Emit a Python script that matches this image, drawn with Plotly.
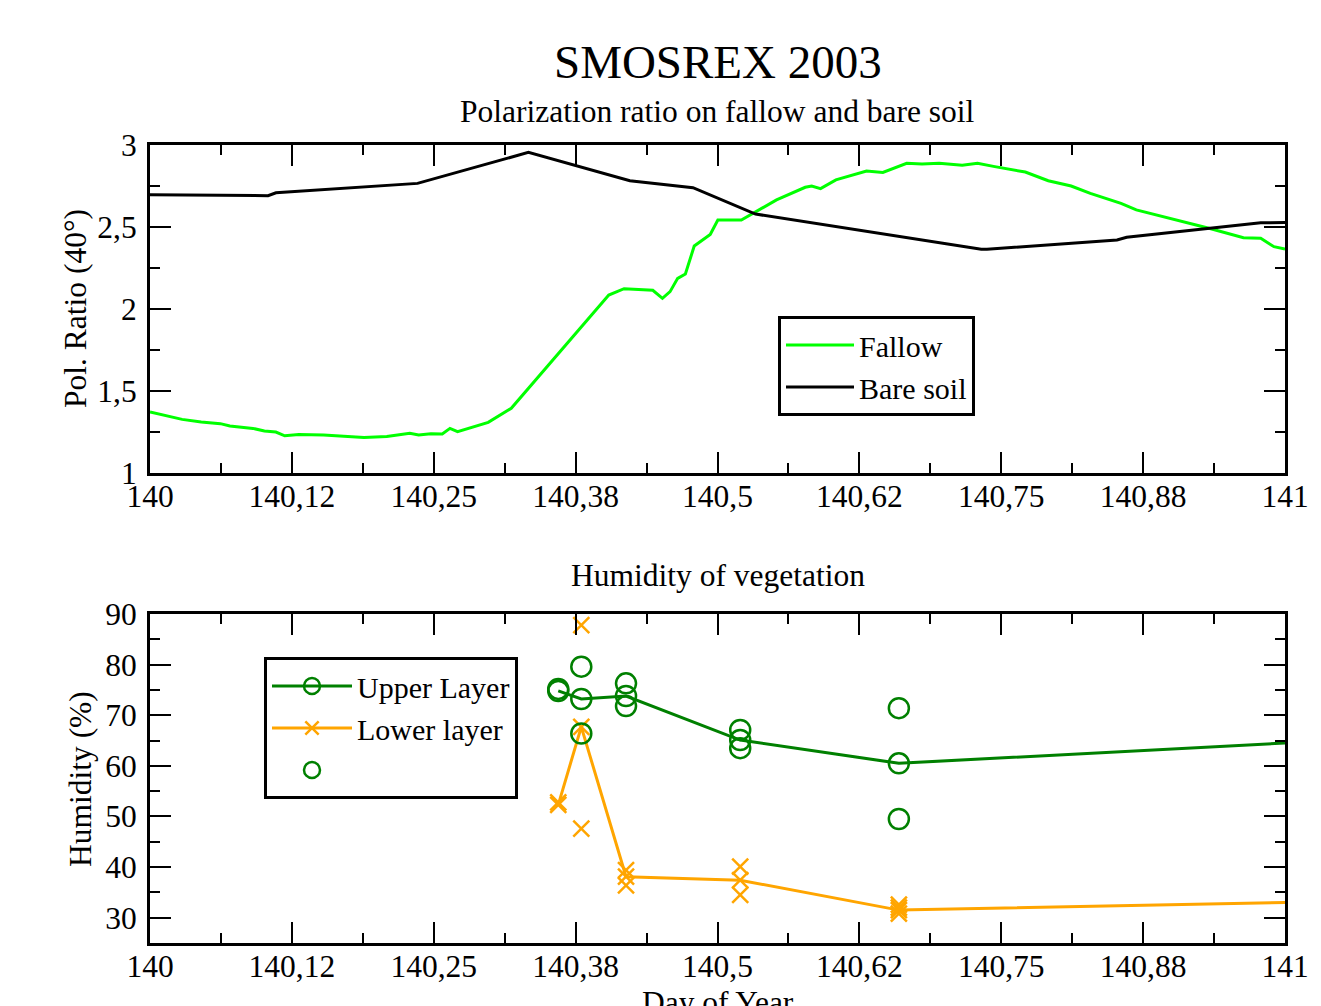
import plotly.graph_objects as go

# ---- Polarization ratio (day-of-year offsets from day 140) ----
fallow_t = [0.0, 0.0115, 0.0283, 0.0451, 0.062, 0.0704, 0.0907, 0.1008, 0.1109, 0.1187,
            0.1311, 0.153, 0.175, 0.1885, 0.2086, 0.2289, 0.2367, 0.2475, 0.2575, 0.2643,
            0.271, 0.298, 0.3183, 0.4042, 0.4177, 0.443, 0.4515, 0.4582, 0.4649, 0.4717,
            0.4795, 0.4936, 0.5003, 0.521, 0.552, 0.5773, 0.583, 0.5908, 0.6043, 0.6313,
            0.6457, 0.6667, 0.6802, 0.6953, 0.7156, 0.7291, 0.7443, 0.7577, 0.7712, 0.7914,
            0.8116, 0.8285, 0.8487, 0.8555, 0.869, 0.9027, 0.933, 0.9634, 0.9786, 0.9903, 1.0]
fallow_pr = [1.372, 1.354, 1.327, 1.311, 1.301, 1.287, 1.272, 1.256, 1.25, 1.227,
             1.234, 1.232, 1.220, 1.216, 1.222, 1.242, 1.232, 1.240, 1.238, 1.272,
             1.252, 1.309, 1.395, 2.085, 2.124, 2.114, 2.065, 2.106, 2.187, 2.213,
             2.384, 2.455, 2.543, 2.543, 2.665, 2.742, 2.75, 2.734, 2.787, 2.841,
             2.833, 2.888, 2.884, 2.888, 2.876, 2.888, 2.868, 2.852, 2.835, 2.782,
             2.75, 2.705, 2.659, 2.644, 2.604, 2.547, 2.492, 2.435, 2.431, 2.38, 2.365]

bare_t = [0.0, 0.104, 0.111, 0.2306, 0.2357, 0.3334, 0.4228, 0.4784, 0.5335,
          0.7324, 0.7374, 0.852, 0.8605, 0.9786, 1.0]
bare_pr = [2.697, 2.691, 2.709, 2.76, 2.766, 2.955, 2.782, 2.74, 2.579,
           2.364, 2.364, 2.421, 2.437, 2.526, 2.527]

# ---- Vegetation humidity ----
layer_t = [0.3597, 0.38, 0.4194, 0.52, 0.6598, 1.0]
upper_hum = [74.8, 73.2, 73.8, 65.1, 60.5, 64.5]
lower_hum = [52.3, 67.7, 38.1, 37.4, 31.5, 33.0]
layer_marker_on = [1, 1, 1, 1, 1, 0]

upper_pts_t = [0.3597, 0.38, 0.38, 0.4194, 0.4194, 0.52, 0.52, 0.6598, 0.6598]
upper_pts_hum = [75.2, 79.6, 66.4, 76.3, 71.8, 67.1, 63.5, 71.4, 49.5]

lower_pts_t = [0.3597, 0.38, 0.38, 0.4194, 0.4194, 0.52, 0.52, 0.6598, 0.6598, 0.6598]
lower_pts_hum = [52.8, 87.8, 47.6, 39.4, 36.4, 40.1, 34.5, 32.6, 30.8, 32.0]

# ---- Axis ticks ----
day_ticks = [140, 140.125, 140.25, 140.375, 140.5, 140.625, 140.75, 140.875, 141]
day_labels = ["140", "140,12", "140,25", "140,38", "140,5", "140,62", "140,75", "140,88", "141"]
hum_ticks = [30, 40, 50, 60, 70, 80, 90]

DAY0 = 140
W, H = 1321, 1006
FONT = "Liberation Serif"
FS = 31.5
LEG_FS = 30
GREEN_F = "#00FF00"
GREEN_U = "#008000"
ORANGE = "#FFA500"


def px(x):
    return x / W


def py(y):
    return 1 - y / H


def days(offsets):
    return [DAY0 + t for t in offsets]


fig = go.Figure()

fig.add_trace(go.Scatter(x=days(fallow_t), y=fallow_pr, mode="lines", name="Fallow",
                         line=dict(color=GREEN_F, width=3), xaxis="x", yaxis="y",
                         legend="legend"))
fig.add_trace(go.Scatter(x=days(bare_t), y=bare_pr, mode="lines", name="Bare soil",
                         line=dict(color="black", width=3), xaxis="x", yaxis="y",
                         legend="legend"))

fig.add_trace(go.Scatter(x=days(layer_t), y=upper_hum, mode="lines+markers", name="Upper Layer",
                         line=dict(color=GREEN_U, width=3),
                         marker=dict(symbol="circle-open", size=[20 * m for m in layer_marker_on],
                                     opacity=1, color=GREEN_U,
                                     line=dict(width=2.5, color=GREEN_U)),
                         xaxis="x2", yaxis="y2", legend="legend2"))
fig.add_trace(go.Scatter(x=days(layer_t), y=lower_hum, mode="lines+markers", name="Lower layer",
                         line=dict(color=ORANGE, width=3),
                         marker=dict(symbol="x-thin", size=[16 * m for m in layer_marker_on],
                                     opacity=1, color=ORANGE,
                                     line=dict(width=2.5, color=ORANGE)),
                         xaxis="x2", yaxis="y2", legend="legend2"))
fig.add_trace(go.Scatter(x=days(upper_pts_t), y=upper_pts_hum, mode="markers", name=" ",
                         marker=dict(symbol="circle-open", size=20, opacity=1, color=GREEN_U,
                                     line=dict(width=2.5, color=GREEN_U)),
                         xaxis="x2", yaxis="y2", legend="legend2"))
fig.add_trace(go.Scatter(x=days(lower_pts_t), y=lower_pts_hum, mode="markers", showlegend=False,
                         marker=dict(symbol="x-thin", size=16, opacity=1, color=ORANGE,
                                     line=dict(width=2.5, color=ORANGE)),
                         xaxis="x2", yaxis="y2"))

tick_font = dict(family=FONT, size=FS, color="black")
frame = dict(showline=True, linewidth=3, linecolor="black", mirror="allticks",
             ticks="inside", ticklen=21, tickwidth=2, tickcolor="black",
             showgrid=False, zeroline=False, tickfont=tick_font)

x_dom = [px(150), px(1285)]
fig.update_layout(
    width=W, height=H, autosize=False,
    margin=dict(l=0, r=0, t=0, b=0, autoexpand=False),
    paper_bgcolor="white", plot_bgcolor="white",
    separators=", ",
    font=dict(family=FONT, size=FS, color="black"),
    xaxis=dict(domain=x_dom, range=[140, 141], anchor="y", tickmode="array",
               tickvals=day_ticks, ticktext=day_labels, ticklabelstandoff=-7,
               minor=dict(tick0=140, dtick=0.0625, ticks="inside", ticklen=10,
                          tickwidth=2, tickcolor="black"), **frame),
    yaxis=dict(domain=[py(473), py(145)], range=[1, 3], anchor="x", tick0=1, dtick=0.5,
               ticklabelstandoff=4,
               minor=dict(tick0=1, dtick=0.25, ticks="inside", ticklen=10,
                          tickwidth=2, tickcolor="black"), **frame),
    xaxis2=dict(domain=x_dom, range=[140, 141], anchor="y2", tickmode="array",
                tickvals=day_ticks, ticktext=day_labels, ticklabelstandoff=-7,
                minor=dict(tick0=140, dtick=0.0625, ticks="inside", ticklen=10,
                           tickwidth=2, tickcolor="black"), **frame),
    yaxis2=dict(domain=[py(943), py(614)], range=[25, 90], anchor="x2", tickmode="array",
                tickvals=hum_ticks, ticklabelstandoff=4,
                minor=dict(tick0=25, dtick=5, ticks="inside", ticklen=10,
                           tickwidth=2, tickcolor="black"), **frame),
    legend=dict(x=px(778), y=py(316), xanchor="left", yanchor="top",
                bgcolor="white", bordercolor="black", borderwidth=3,
                font=dict(family=FONT, size=LEG_FS, color="black"), itemwidth=68),
    legend2=dict(x=px(264), y=py(657), xanchor="left", yanchor="top",
                 bgcolor="white", bordercolor="black", borderwidth=3,
                 font=dict(family=FONT, size=LEG_FS, color="black"), itemwidth=80),
)

titles = [
    dict(text="SMOSREX 2003", x=px(717.5), y=py(62), size=47, angle=0),
    dict(text="Polarization ratio on fallow and bare soil", x=px(717.5), y=py(112), size=FS, angle=0),
    dict(text="Humidity of vegetation", x=px(717.5), y=py(575), size=FS, angle=0),
    dict(text="Day of Year", x=px(717.5), y=py(1002), size=FS, angle=0),
    dict(text="Pol. Ratio (40°)", x=px(75), y=py(309), size=FS, angle=-90),
    dict(text="Humidity (%)", x=px(80), y=py(779), size=FS, angle=-90),
]
for t in titles:
    fig.add_annotation(text=t["text"], x=t["x"], y=t["y"], xref="paper", yref="paper",
                       xanchor="center", yanchor="middle", showarrow=False,
                       textangle=t["angle"],
                       font=dict(family=FONT, size=t["size"], color="black"))

fig.write_html("out.html")
